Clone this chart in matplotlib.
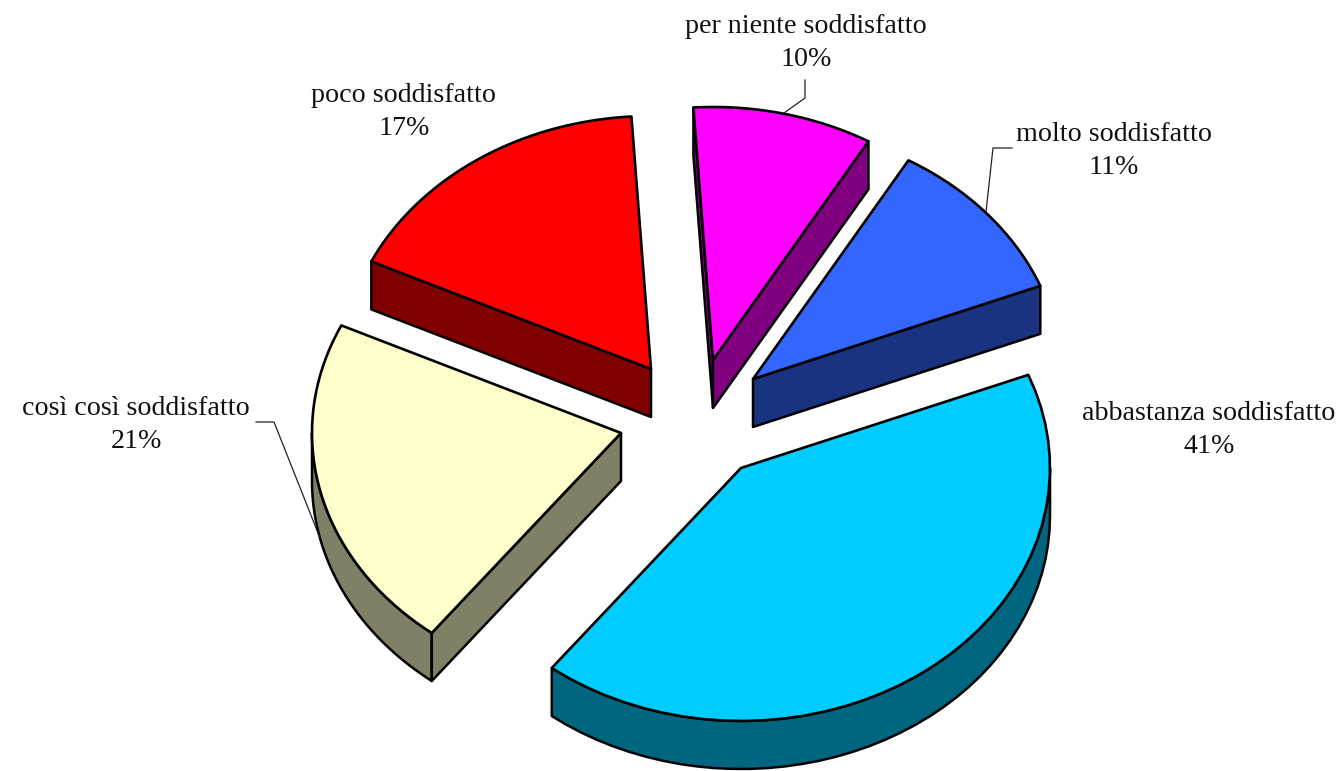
import numpy as np
import matplotlib.pyplot as plt
from matplotlib.patches import Polygon

labels = ["abbastanza soddisfatto", "così così soddisfatto", "poco soddisfatto",
          "per niente soddisfatto", "molto soddisfatto"]
values = [41.49, 21.5, 17.0, 9.4, 10.61]
percent_labels = ["41%", "21%", "17%", "10%", "11%"]
top_colors = ["#00CCFF", "#FFFFCC", "#FF0000", "#FF00FF", "#3366FF"]
side_colors = ["#006680", "#808066", "#800000", "#800080", "#1A3380"]

# pixel geometry of the exploded pie
apex = [(741, 468), (621, 433), (651, 369), (713, 360), (753, 379)]
label_pos = [(1209, 430), (136, 425), (404, 112), (806, 43), (1114, 151)]
leaders = [None,
           [(320, 538), (274, 422), (256, 422)],
           None,
           [(784, 113), (805, 98), (805, 80)],
           [(986, 212), (993, 148), (1012, 148)]]
RX, RY = 309, 253
DEPTH = 48
START = 21.6


def rim(cx, cy, a0, a1, n=40):
    t = np.radians(np.linspace(a0, a1, n))
    return np.column_stack([cx + RX * np.cos(t), cy - RY * np.sin(t)])


def draw_slice(ax, center, a0, a1, top, side):
    cx, cy = center
    down = np.array([0, DEPTH])
    edge = rim(cx, cy, a0, a1)

    # outer wall, only the front half of the ellipse can be seen
    w0, w1 = min(a0, 0), max(a1, -180)
    if w0 > w1:
        arc = rim(cx, cy, w0, w1)
        wall = np.vstack([arc, (arc + down)[::-1]])
        ax.add_patch(Polygon(wall, fc=side, ec="black", lw=1.8, joinstyle="round"))

    # cut faces, skip the ones turned away from the viewer
    faces = []
    if np.cos(np.radians(a0)) < 0:
        faces.append(edge[0])
    if np.cos(np.radians(a1)) > 0:
        faces.append(edge[-1])
    for p in faces:
        face = [center, p, p + down, np.array(center) + down]
        ax.add_patch(Polygon(face, fc=side, ec="black", lw=1.8, joinstyle="round"))

    ax.add_patch(Polygon(np.vstack([[center], edge]), fc=top, ec="black", lw=1.9, joinstyle="round"))


def main():
    plt.rcParams["font.family"] = ["Liberation Serif", "DejaVu Serif"]
    fig = plt.figure(figsize=(13.41, 7.71), dpi=100)
    ax = fig.add_axes([0, 0, 1, 1])
    ax.set_xlim(0, 1341)
    ax.set_ylim(771, 0)
    ax.axis("off")

    angles = []
    a = START
    for v in values:
        b = a - v * 3.6
        angles.append((a, b))
        a = b

    for i in [2, 3, 4, 1, 0]:
        draw_slice(ax, apex[i], angles[i][0], angles[i][1], top_colors[i], side_colors[i])

    for i, name in enumerate(labels):
        if leaders[i]:
            xs, ys = zip(*leaders[i])
            ax.plot(xs, ys, color="#222222", lw=0.9)
        x, y = label_pos[i]
        ax.text(x, y, f"{name}\n{percent_labels[i]}", ha="center", va="center",
                fontsize=20.2, linespacing=1.4, color="#111111")

    fig.savefig("out.png", dpi=100)


if __name__ == '__main__':
    main()
